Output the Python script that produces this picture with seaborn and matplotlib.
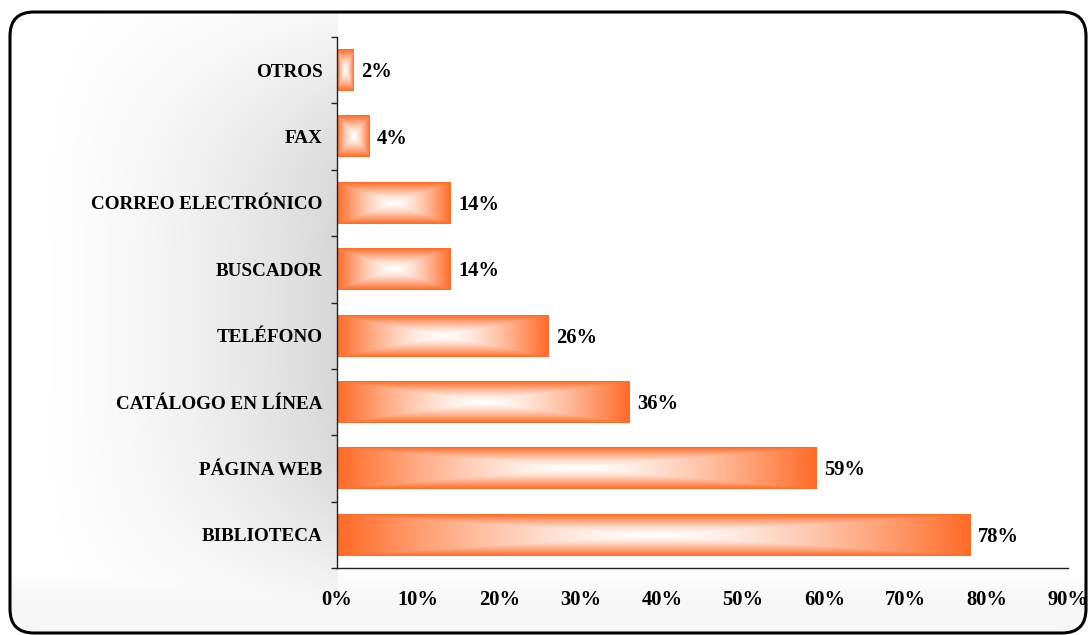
import numpy as np
import pandas as pd
import matplotlib
matplotlib.use("Agg")
import matplotlib.pyplot as plt
import seaborn as sns
from matplotlib.patches import FancyBboxPatch
from matplotlib.ticker import FixedLocator

# Survey data: how users find information
categories = ["OTROS", "FAX", "CORREO ELECTRÓNICO", "BUSCADOR", "TELÉFONO",
              "CATÁLOGO EN LÍNEA", "PÁGINA WEB", "BIBLIOTECA"]
values = [2, 4, 14, 14, 26, 36, 59, 78]
x_ticks = [0, 10, 20, 30, 40, 50, 60, 70, 80, 90]

df = pd.DataFrame({"medio": categories, "pct": values})

sns.set_theme(style="white")
plt.rcParams["font.family"] = ["Liberation Serif", "DejaVu Serif"]
plt.rcParams["font.weight"] = "bold"

W, H = 1091, 635
fig = plt.figure(figsize=(W / 100, H / 100), dpi=100)
fig.patch.set_facecolor("white")

# Background layer in pixel coordinates: rounded frame with soft grey shading
bg = fig.add_axes([0, 0, 1, 1], zorder=0)
bg.set_xlim(0, W)
bg.set_ylim(H, 0)
bg.axis("off")

xx, yy = np.meshgrid(np.arange(W), np.arange(H), indexing="xy")
xx = xx.astype(float)
yy = yy.astype(float)
sx = np.clip((xx - 20) / 317.0, 0, 1) ** 1.6
sx[xx > 337] = 0
scale = np.where(yy < 320, 270.0, 255.0)
vy = np.exp(-((yy - 320) / scale) ** 4)
shade = 0.155 * sx * vy
bottom = 0.03 * np.clip((yy - 572) / 25.0, 0, 1)
shade = np.maximum(shade, bottom)
gray = 1 - shade
bg_img = np.dstack([gray, gray, gray])

frame = FancyBboxPatch((10, 12), 1076, 621,
                       boxstyle="round,pad=0,rounding_size=24",
                       facecolor="none", edgecolor="black", linewidth=2.2,
                       zorder=3)
bg.add_patch(frame)
im = bg.imshow(bg_img, extent=[0, W, H, 0], aspect="auto", zorder=1,
               interpolation="bilinear")
im.set_clip_path(frame)

# Main chart
ax = fig.add_axes([337 / W, 1 - 568 / H, (1068 - 337) / W, (568 - 37) / H],
                  zorder=1)
ax.set_facecolor("white")

sns.barplot(data=df, x="pct", y="medio", orient="h", ax=ax,
            width=0.63, color="#FF6A26", saturation=1)

orange = np.array([255, 106, 38]) / 255.0
white = np.array([1.0, 1.0, 1.0])


def rect_gradient(nx=300, ny=80, power=1.4):
    u = np.linspace(-1, 1, nx)
    v = np.linspace(-1, 1, ny)
    U, V = np.meshgrid(u, v)
    t = np.maximum(np.abs(U), np.abs(V)) ** power
    return white * (1 - t[..., None]) + orange * t[..., None]


for p in ax.patches:
    x0, y0 = p.get_x(), p.get_y()
    w, h = p.get_width(), p.get_height()
    p.set_visible(False)
    ax.imshow(rect_gradient(), extent=[x0, x0 + w, y0 + h, y0],
              aspect="auto", zorder=2, interpolation="bilinear")

for i, v in enumerate(values):
    ax.text(v + 0.95, i + 0.03, f"{v}%", va="center", ha="left",
            fontsize=14.8, fontweight="bold", color="black")

ax.set_xlim(0, 90)
ax.set_ylim(len(categories) - 0.5, -0.5)
ax.set_aspect("auto")

ax.xaxis.set_major_locator(FixedLocator(x_ticks))
ax.set_xticklabels([f"{t}%" for t in x_ticks])
ax.yaxis.set_minor_locator(FixedLocator(np.arange(-0.5, len(categories), 1.0)))

ax.set_xlabel("")
ax.set_ylabel("")
for side in ["top", "right"]:
    ax.spines[side].set_visible(False)
for side in ["left", "bottom"]:
    ax.spines[side].set_color("#222222")
    ax.spines[side].set_linewidth(1.0)

ax.tick_params(axis="x", which="major", direction="out", length=4.5,
               width=1.0, color="#222222", pad=11, labelsize=14.8)
ax.tick_params(axis="y", which="major", length=0, pad=10.5, labelsize=13.8)
ax.tick_params(axis="y", which="minor", direction="out", length=4.5,
               width=1.0, color="#222222", left=True)
for lab in ax.get_xticklabels() + ax.get_yticklabels():
    lab.set_fontweight("bold")
    lab.set_color("black")

fig.savefig("out.png", dpi=100)
